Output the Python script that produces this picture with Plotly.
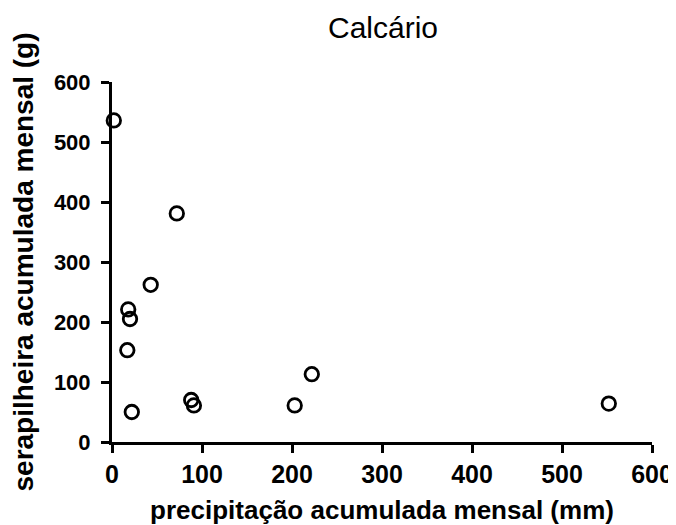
import plotly.graph_objects as go

precip_mm = [2, 72, 43, 18, 20, 17, 22, 88, 91, 203, 222, 552]
serap_g = [536, 381, 262, 221, 205, 153, 50, 70, 61, 61, 113, 64]
ticks = [0, 100, 200, 300, 400, 500, 600]

fig = go.Figure(go.Scatter(
    x=precip_mm, y=serap_g, mode="markers",
    marker=dict(symbol="circle-open", size=13.5, color="black", line=dict(width=2.8, color="black")),
    cliponaxis=False, showlegend=False,
))

axis_common = dict(
    range=[0, 600], tickvals=ticks, ticks="outside", ticklen=8, tickwidth=3,
    tickcolor="black", showline=True, linewidth=3, linecolor="black",
    showgrid=False, zeroline=False, automargin=False,
)
FONT = "Liberation Sans, Arial"

# page body adds an 8px offset, so the figure is sized to the visible area
fig.update_layout(
    width=668, height=517,
    paper_bgcolor="white", plot_bgcolor="white",
    margin=dict(l=104, r=24, t=74, b=83),
    title=dict(text="Calcário", x=0.5614, xanchor="center", y=0.9632, yanchor="middle",
               font=dict(family=FONT, size=30, color="black")),
    xaxis=dict(**axis_common,
               tickfont=dict(family=FONT, size=25, color="black", weight="bold"),
               title=dict(text="precipitação acumulada mensal (mm)", standoff=14,
                          font=dict(family=FONT, size=26, color="black", weight="bold"))),
    yaxis=dict(**axis_common, ticklabelstandoff=6,
               tickfont=dict(family=FONT, size=22, color="black", weight="bold"),
               title=dict(text="serapilheira acumulada mensal (g)", standoff=23,
                          font=dict(family=FONT, size=28, color="black", weight="bold"))),
)

fig.write_html("out.html")
